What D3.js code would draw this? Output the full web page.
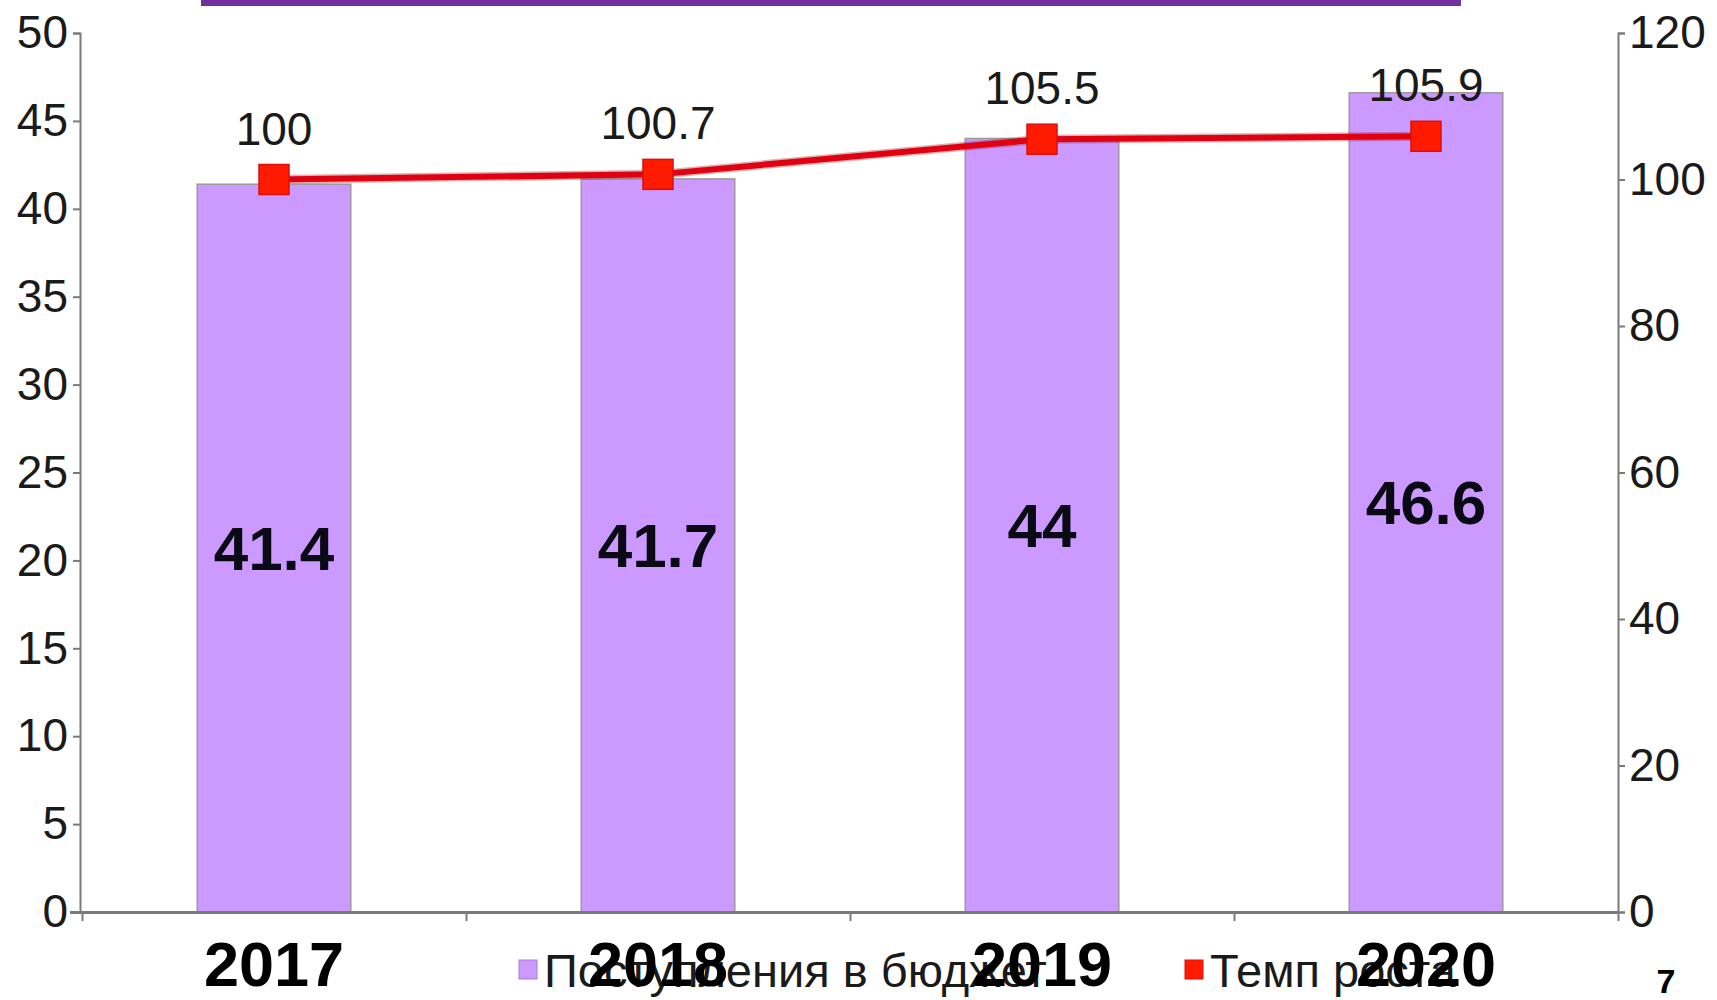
<!DOCTYPE html>
<html><head><meta charset="utf-8">
<script src="https://cdn.jsdelivr.net/npm/d3@7"></script>
<style>
html,body{margin:0;padding:0;background:#fff;}
svg{display:block;font-family:"Liberation Sans",Arial,sans-serif;}
</style></head>
<body>
<svg id="chart" width="1717" height="1000"></svg>
<script>
const categories = ["2017", "2018", "2019", "2020"];
const budgetValues = [41.4, 41.7, 44, 46.6];
const growthValues = [100, 100.7, 105.5, 105.9];
const leftTicks = [0, 5, 10, 15, 20, 25, 30, 35, 40, 45, 50];
const rightTicks = [0, 20, 40, 60, 80, 100, 120];
const legendLabels = ["Поступления в бюджет", "Темп роста"];
const pageNumber = "7";

const svg = d3.select("#chart");
const W = 1717, H = 1000;
const plot = {left: 82, right: 1618, top: 33, bottom: 912};

svg.append("rect").attr("width", W).attr("height", H).attr("fill", "#fff");

// purple header strip
svg.append("rect").attr("x", 201).attr("y", 0).attr("width", 1260).attr("height", 6).attr("fill", "#7030a0");

const x = d3.scaleBand().domain(categories).range([plot.left, plot.right]).padding(0);
const xb = d3.scaleLinear().domain([0, categories.length]).range([plot.left, plot.right]);
const yL = d3.scaleLinear().domain([0, 50]).range([plot.bottom, plot.top]);
const yR = d3.scaleLinear().domain([0, 120]).range([plot.bottom, plot.top]);
const barW = x.bandwidth() * 0.4;
const cx = c => x(c) + x.bandwidth() / 2;

// bars
svg.append("g").selectAll("rect").data(categories).join("rect")
  .attr("x", (c) => cx(c) - barW / 2)
  .attr("y", (c, i) => yL(budgetValues[i]))
  .attr("width", barW)
  .attr("height", (c, i) => yL(0) - yL(budgetValues[i]))
  .attr("fill", "#cc99ff")
  .attr("stroke", "#9c9c9c")
  .attr("stroke-width", 1.5);

// axes
const axisColor = "#7a7a7a";
const gL = svg.append("g").attr("transform", `translate(${plot.left - 2},0)`)
  .call(d3.axisLeft(yL).tickValues(leftTicks).tickSize(7).tickSizeOuter(7).tickPadding(5));
const gR = svg.append("g").attr("transform", `translate(${plot.right},0)`)
  .call(d3.axisRight(yR).tickValues(rightTicks).tickSize(7).tickSizeOuter(7).tickPadding(4));
const gX = svg.append("g").attr("transform", `translate(0,${plot.bottom})`)
  .call(d3.axisBottom(xb).tickValues(d3.range(0, categories.length + 1)).tickFormat("").tickSize(9).tickSizeOuter(0));
gX.select(".domain").attr("d", `M${plot.left - 12},0.5H${plot.right}`);
[gL, gR, gX].forEach(g => {
  g.selectAll("path,line").attr("stroke", axisColor).attr("stroke-width", 2);
  g.selectAll("text").attr("font-size", 46).attr("font-family", "Liberation Sans, Arial, sans-serif").attr("fill", "#1a1a1a");
});
gX.select(".domain").attr("stroke-width", 3);

// bar value labels
svg.append("g").selectAll("text").data(categories).join("text")
  .attr("x", cx)
  .attr("y", (c, i) => (yL(budgetValues[i]) + yL(0)) / 2 + 22)
  .attr("text-anchor", "middle")
  .attr("font-size", 62).attr("font-weight", "bold").attr("fill", "#0a0a14")
  .text((c, i) => budgetValues[i]);

// growth line
const line = d3.line().x((d, i) => cx(categories[i])).y(d => yR(d));
svg.append("path").datum(growthValues).attr("d", line)
  .attr("fill", "none").attr("stroke", "#9a2020").attr("stroke-width", 9).attr("stroke-opacity", 0.35);
svg.append("path").datum(growthValues).attr("d", line)
  .attr("fill", "none").attr("stroke", "#e00012").attr("stroke-width", 6);
const ms = 30;
svg.append("g").selectAll("rect").data(growthValues).join("rect")
  .attr("x", (d, i) => cx(categories[i]) - ms / 2)
  .attr("y", d => yR(d) - ms / 2)
  .attr("width", ms).attr("height", ms)
  .attr("fill", "#ff1a00").attr("stroke", "#d81010").attr("stroke-width", 1.5);
svg.append("g").selectAll("text").data(growthValues).join("text")
  .attr("x", (d, i) => cx(categories[i]))
  .attr("y", d => yR(d) - 35)
  .attr("text-anchor", "middle")
  .attr("font-size", 46).attr("fill", "#1a1a1a")
  .text(d => d);

// legend
const legend = svg.append("g");
const legItems = [
  {x: 519, color: "#cc99ff", stroke: "#a080d0"},
  {x: 1185, color: "#ff1a00", stroke: "#e01010"}
];
legItems.forEach((it, i) => {
  legend.append("rect").attr("x", it.x).attr("y", 960).attr("width", 18).attr("height", 19)
    .attr("fill", it.color).attr("stroke", it.stroke).attr("stroke-width", 1);
  legend.append("text").attr("x", it.x + 25).attr("y", 987)
    .attr("font-size", 47).attr("fill", "#1a1a1a").text(legendLabels[i]);
});

// category labels
svg.append("g").selectAll("text").data(categories).join("text")
  .attr("x", cx).attr("y", 986)
  .attr("text-anchor", "middle")
  .attr("font-size", 63).attr("font-weight", "bold").attr("fill", "#000")
  .text(d => d);

// page number
svg.append("text").attr("x", 1666).attr("y", 993).attr("text-anchor", "middle")
  .attr("font-size", 34).attr("font-weight", "bold").attr("fill", "#000").text(pageNumber);
</script>
</body></html>
